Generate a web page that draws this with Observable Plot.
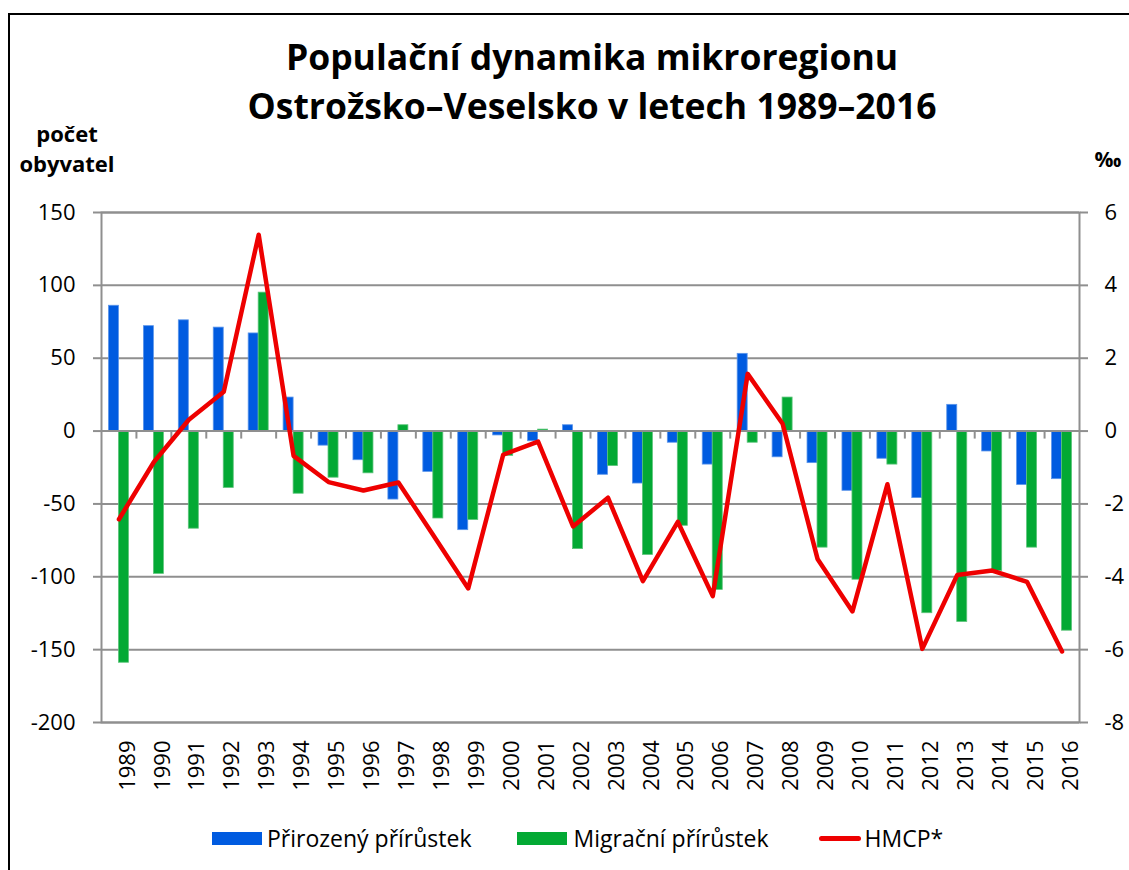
<!DOCTYPE html>
<html>
<head>
<meta charset="utf-8">
<script src="https://cdn.jsdelivr.net/npm/d3@7"></script>
<script src="https://cdn.jsdelivr.net/npm/@observablehq/plot@0.6"></script>
<style>
  html, body { margin: 0; padding: 0; background: #fff; overflow: hidden; }
  #wrap { position: relative; width: 1129px; height: 870px; font-family: "Open Sans", sans-serif; color: #000; }
  #border { position: absolute; left: 8px; top: 13px; width: 1200px; height: 1000px; border-left: 2px solid #000; border-top: 2px solid #000; z-index: 5; pointer-events: none; }
  #title { position: absolute; left: 0; top: 32px; width: 1184px; text-align: center; font-weight: 700; font-size: 35.5px; line-height: 49px; }
  #ylab { position: absolute; left: 0; top: 118px; width: 134px; text-align: center; font-weight: 700; font-size: 22px; line-height: 30px; }
  #ylab2 { position: absolute; left: 1088px; top: 144px; width: 40px; text-align: center; font-weight: 700; font-size: 21px; line-height: 30px; }
  #chart { position: absolute; left: 0; top: 180px; }
  #legend { position: absolute; left: 212px; top: 820px; height: 36px; display: flex; align-items: center; font-size: 23px; }
  .sw { display: inline-block; width: 50px; height: 13px; margin-right: 5px; }
  .ln { display: inline-block; width: 42px; height: 5px; border-radius: 3px; margin-right: 4px; }
  .lt { margin-right: 45px; }
</style>
</head>
<body>
<div id="wrap">
  <div id="border"></div>
  <div id="title">Populační dynamika mikroregionu<br>Ostrožsko–Veselsko v letech 1989–2016</div>
  <div id="ylab">počet<br>obyvatel</div>
  <div id="ylab2">‰</div>
  <div id="chart"></div>
  <div id="legend">
    <span class="sw" style="background:#005BE0"></span><span class="lt">Přirozený přírůstek</span>
    <span class="sw" style="background:#03A934;margin-right:7px"></span><span class="lt" style="margin-right:50px">Migrační přírůstek</span>
    <span class="ln" style="background:#EE0000"></span><span>HMCP*</span>
  </div>
</div>
<script>
const years = [1989,1990,1991,1992,1993,1994,1995,1996,1997,1998,1999,2000,2001,2002,2003,2004,2005,2006,2007,2008,2009,2010,2011,2012,2013,2014,2015,2016];
const natural = [86,72,76,71,67,23,-10,-20,-47,-28,-68,-3,-7,4,-30,-36,-8,-23,53,-18,-22,-41,-19,-46,18,-14,-37,-33];
const migration = [-159,-98,-67,-39,95,-43,-32,-29,4,-60,-61,-17,1,-81,-24,-85,-65,-109,-8,23,-80,-102,-23,-125,-131,-96,-80,-137];
const hmcp = [-2.42,-0.85,0.31,1.08,5.39,-0.68,-1.40,-1.63,-1.41,-2.86,-4.32,-0.65,-0.29,-2.62,-1.83,-4.12,-2.49,-4.53,1.57,0.2,-3.51,-4.95,-1.46,-5.98,-3.95,-3.83,-4.14,-6.05];
const yTicks = [-200,-150,-100,-50,0,50,100,150];
const hmcpTicks = [-8,-6,-4,-2,0,2,4,6];

const k = yTicks[yTicks.length - 1] / hmcpTicks[hmcpTicks.length - 1];
const data = years.map((year, i) => ({year, nat: natural[i], mig: migration[i], hmcp: hmcp[i]}));
const boundaries = years.slice(1).map(y => y - 0.5);

const BLUE = "#005BE0", GREEN = "#03A934", RED = "#EE0000", GRID = "#8F8F8F";
const bw = 0.2863;

const chart = Plot.plot({
  width: 1129,
  height: 640,
  marginLeft: 101,
  marginRight: 50,
  marginTop: 32,
  marginBottom: 98,
  style: {fontFamily: "'Open Sans', sans-serif", fontSize: "22px", background: "transparent", color: "#000"},
  x: {domain: [years[0] - 0.5, years[years.length - 1] + 0.5]},
  y: {domain: [yTicks[0], yTicks[yTicks.length - 1]]},
  marks: [
    Plot.ruleY(yTicks, {stroke: GRID, strokeWidth: 2}),
    Plot.frame({stroke: GRID, strokeWidth: 2}),
    Plot.rect(data, {x1: d => d.year - bw, x2: d => d.year, y1: 0, y2: "nat", fill: BLUE, stroke: "#5B95EA", strokeWidth: 0.8}),
    Plot.rect(data, {x1: d => d.year, x2: d => d.year + bw, y1: 0, y2: "mig", fill: GREEN, stroke: "#5CC47A", strokeWidth: 0.8}),
    Plot.ruleY([0], {stroke: GRID, strokeWidth: 2}),
    Plot.ruleX(boundaries, {y1: 0, y2: 0, insetBottom: -8, stroke: GRID, strokeWidth: 2}),
    Plot.axisY({anchor: "left", ticks: yTicks, tickFormat: d => String(d), tickSize: 8, tickPadding: 18, stroke: GRID, strokeWidth: 2, fill: "#000", fontSize: 22, label: null}),
    Plot.axisY({anchor: "right", ticks: yTicks, tickFormat: d => String(d / k), tickSize: 8, tickPadding: 17, stroke: GRID, strokeWidth: 2, fill: "#000", fontSize: 22, label: null}),
    Plot.axisX({anchor: "bottom", ticks: years, tickFormat: d => String(d), rotate: -90, textAnchor: "end", tickSize: 0, tickPadding: 18, fill: "#000", fontSize: 22, label: null}),
    Plot.line(data, {x: "year", y: d => d.hmcp * k, stroke: RED, strokeWidth: 4.5, strokeLinejoin: "round", strokeLinecap: "round"})
  ]
});
document.getElementById("chart").appendChild(chart);
</script>
</body>
</html>
